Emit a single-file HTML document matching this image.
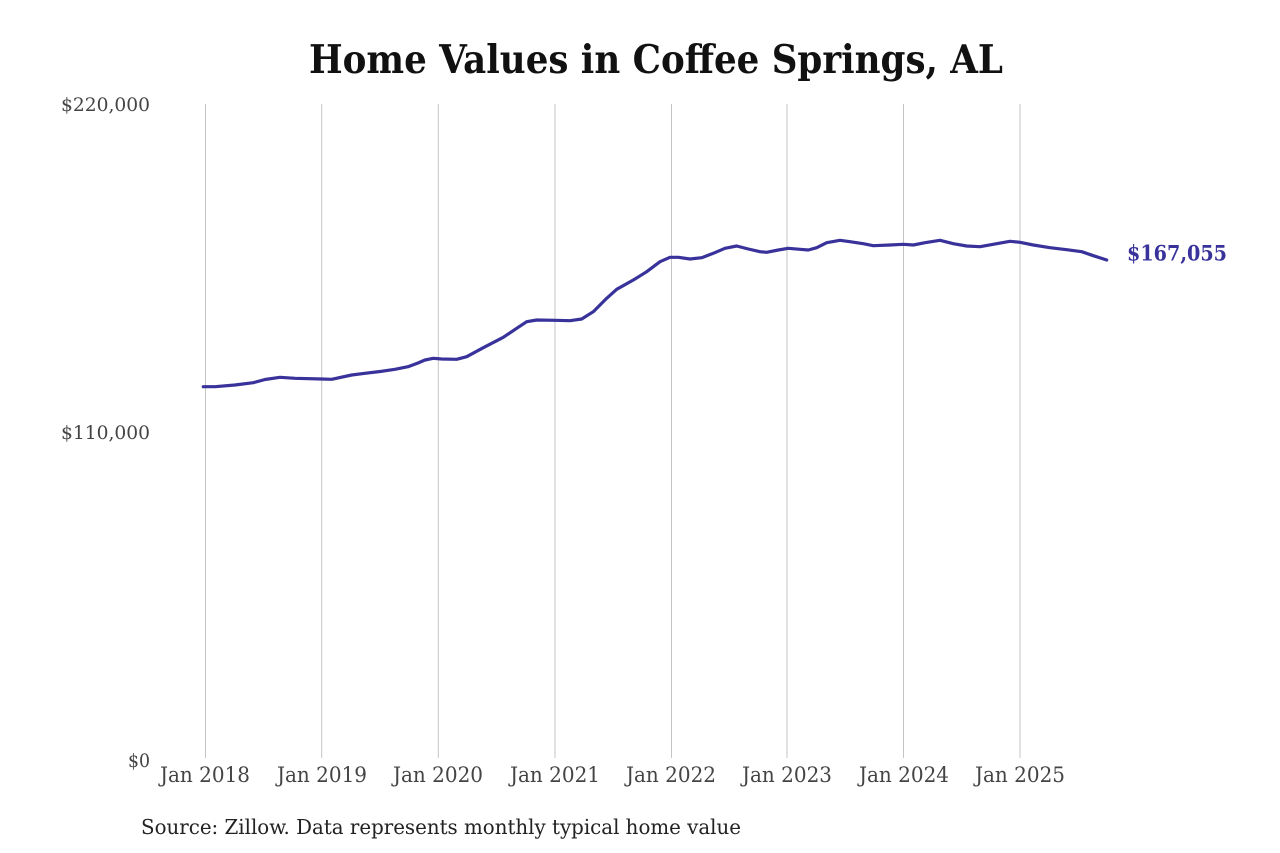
<!DOCTYPE html>
<html>
<head>
<meta charset="utf-8">
<style>
  html,body{margin:0;padding:0;background:#fff;}
  svg{display:block;}
  text{font-stretch:condensed;}
</style>
</head>
<body>
<svg width="1280" height="853" viewBox="0 0 1280 853" xmlns="http://www.w3.org/2000/svg">
  <rect width="1280" height="853" fill="#fff"/>
  <text x="309" y="73" font-family="'DejaVu Serif', 'Liberation Serif', serif" font-weight="bold" font-size="39" fill="#111" textLength="694" lengthAdjust="spacingAndGlyphs">Home Values in Coffee Springs, AL</text>

  <g stroke="#c4c4c4" stroke-width="1">
    <line x1="205.5" y1="104" x2="205.5" y2="758"/>
    <line x1="321.7" y1="104" x2="321.7" y2="758"/>
    <line x1="438.3" y1="104" x2="438.3" y2="758"/>
    <line x1="555" y1="104" x2="555" y2="758"/>
    <line x1="671.5" y1="104" x2="671.5" y2="758"/>
    <line x1="787" y1="104" x2="787" y2="758"/>
    <line x1="903.5" y1="104" x2="903.5" y2="758"/>
    <line x1="1020" y1="104" x2="1020" y2="758"/>
  </g>

  <g font-family="'DejaVu Serif', 'Liberation Serif', serif" font-size="18.5" fill="#444">
    <text x="61" y="111" textLength="89" lengthAdjust="spacingAndGlyphs">$220,000</text>
    <text x="61" y="439" textLength="89" lengthAdjust="spacingAndGlyphs">$110,000</text>
    <text x="128" y="767" textLength="22" lengthAdjust="spacingAndGlyphs">$0</text>
  </g>

  <g font-family="'DejaVu Serif', 'Liberation Serif', serif" font-size="21.5" fill="#444">
    <text x="160" y="782" textLength="90" lengthAdjust="spacingAndGlyphs">Jan 2018</text>
    <text x="277" y="782" textLength="90" lengthAdjust="spacingAndGlyphs">Jan 2019</text>
    <text x="393" y="782" textLength="90" lengthAdjust="spacingAndGlyphs">Jan 2020</text>
    <text x="510" y="782" textLength="90" lengthAdjust="spacingAndGlyphs">Jan 2021</text>
    <text x="626" y="782" textLength="90" lengthAdjust="spacingAndGlyphs">Jan 2022</text>
    <text x="742" y="782" textLength="90" lengthAdjust="spacingAndGlyphs">Jan 2023</text>
    <text x="859" y="782" textLength="90" lengthAdjust="spacingAndGlyphs">Jan 2024</text>
    <text x="975" y="782" textLength="90" lengthAdjust="spacingAndGlyphs">Jan 2025</text>
  </g>

  <polyline fill="none" stroke="#38329a" stroke-width="3.2" stroke-linejoin="round" stroke-linecap="round"
    points="203.3,386.7 215,386.7 235,385 253.3,382.7 265,379.5 280,377.3 295,378.3 321.7,379 331.7,379.3 351.7,375 365,373.3 380,371.5 395,369.3 408,366.7 418,363 425,360 433.3,358.3 441.7,359 456.7,359.3 466.7,356.7 483.3,347.7 503.3,337.3 516.7,328.3 526.7,321.7 536.7,320 555,320.3 570,320.7 581.7,319 593.3,311.7 606.7,298.3 616.7,289.3 633.3,280 646.7,271.7 660,261.7 670,257.3 678.3,257.3 690,259 701.7,257.7 713.3,253.3 725,248.3 736.7,246 748.3,249 760,251.7 766.7,252.3 778.3,250 788.3,248.3 800,249.3 808.3,250 816.7,247.7 826.7,242.7 840,240.3 850,241.7 863.3,243.7 873.3,245.7 890,245 903.3,244.3 913.3,245 925,242.7 940,240.3 953.3,243.7 966.7,246 980,246.7 996.7,243.7 1010,241.3 1020,242.3 1033.3,245 1050,247.7 1066.7,249.7 1081.7,251.7 1093.3,255.7 1106.7,260"/>

  <text x="1127" y="260.5" font-family="'DejaVu Serif', 'Liberation Serif', serif" font-weight="bold" font-size="21" fill="#38329a" textLength="100" lengthAdjust="spacingAndGlyphs">$167,055</text>

  <text x="141" y="834" font-family="'DejaVu Serif', 'Liberation Serif', serif" font-size="20.5" fill="#222" textLength="600" lengthAdjust="spacingAndGlyphs">Source: Zillow. Data represents monthly typical home value</text>
</svg>
</body>
</html>
